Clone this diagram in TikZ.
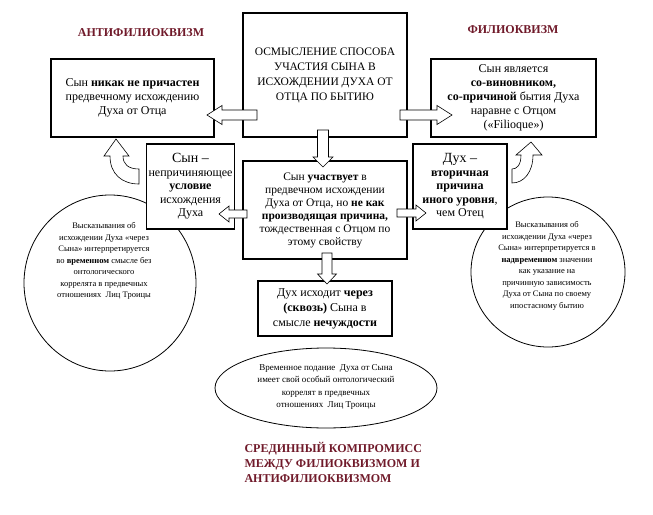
\documentclass[tikz,border=0pt]{standalone}
\usepackage{fontspec}
\setmainfont{Liberation Serif}
\usetikzlibrary{calc,shapes.geometric}
\definecolor{titlered}{RGB}{112,26,42}
\tikzset{
 box/.style={draw, line width=1.1pt, fill=white, align=center, inner sep=2pt},
 thickbox/.style={box, line width=2.2pt},
 barrow/.style={draw, line width=0.6pt, fill=white, line join=miter},
 oval/.style={draw, line width=0.8pt, ellipse, inner sep=0pt},
 ctext/.style={align=center, font=\fontsize{8.5}{11.5}\selectfont},
 title/.style={text=titlered, font=\bfseries\fontsize{12}{15}\selectfont},
 mainfont/.style={font=\fontsize{12}{14}\selectfont},
}
\newcommand\blockarrow[5]{%
 \coordinate (hb) at ($(#2)!#5!(#1)$);
 \draw[barrow] ($(#1)!#3!90:(#2)$) -- ($(hb)!#3!90:(#2)$) -- ($(hb)!#4!90:(#2)$) -- (#2)
   -- ($(hb)!#4!-90:(#2)$) -- ($(hb)!#3!-90:(#2)$) -- ($(#1)!#3!-90:(#2)$) -- cycle;}
\begin{document}
\begin{tikzpicture}[x=1pt,y=-1pt]
\useasboundingbox (0,0) rectangle (653,514);
% titles
\node[title] (anti) at (141,33) {АНТИФИЛИОКВИЗМ};
\node[title] (filio) at (513,30) {ФИЛИОКВИЗМ};
\node[title, align=left, anchor=north west] (mid) at (241,439) {СРЕДИННЫЙ КОМПРОМИСС\\МЕЖДУ ФИЛИОКВИЗМОМ И\\АНТИФИЛИОКВИЗМОМ};
% ovals
\node[oval, minimum width=172, minimum height=176] (lc) at (110,283) {};
\node[ctext] (lct) at (104,261) {Высказывания об\\исхождении Духа «через\\Сына» интерпретируется\\во \textbf{временном} смысле без\\онтологического\\коррелята в предвечных\\отношениях\ \ Лиц Троицы};
\node[oval, minimum width=154, minimum height=150] (rc) at (548,272) {};
\node[ctext] (rct) at (547,266) {Высказывания об\\исхождении Духа «через\\Сына» интерпретируется в\\\textbf{надвременном} значении\\как указание на\\причинную зависимость\\Духа от Сына по своему\\ипостасному бытию};
\node[oval, minimum width=222, minimum height=80] (bc) at (326,388) {};
\node[align=center, font=\fontsize{9}{12.5}\selectfont] (bct) at (326,387) {Временное подание\ \ Духа от Сына\\имеет свой особый онтологический\\коррелят в предвечных\\отношениях\ \ Лиц Троицы};
% boxes
\node[box, mainfont, minimum width=163, minimum height=78] (left) at (132.5,98) {Сын \textbf{никак не причастен}\\предвечному исхождению\\Духа от Отца};
\node[thickbox, font=\fontsize{11.5}{15}\selectfont, minimum width=164, minimum height=124] (top) at (325,75) {ОСМЫСЛЕНИЕ СПОСОБА\\УЧАСТИЯ СЫНА В\\ИСХОЖДЕНИИ ДУХА ОТ\\ОТЦА ПО БЫТИЮ};
\node[box, mainfont, minimum width=165, minimum height=78] (right) at (513.5,98) {Сын является\\\textbf{со-виновником,}\\\textbf{со-причиной} бытия Духа\\наравне с Отцом\\(«Filioque»)};
\node[box, font=\fontsize{11.5}{13}\selectfont, minimum width=164, minimum height=98] (middle) at (325,210) {Сын \textbf{участвует} в\\предвечном исхождении\\Духа от Отца, но \textbf{не как}\\\textbf{производящая причина,}\\тождественная с Отцом по\\этому свойству};
\node[box, font=\fontsize{12}{13.5}\selectfont, minimum width=87, minimum height=85] (lsmall) at (190.5,186.5) {{\fontsize{14}{14}\selectfont Сын –}\\непричиняющее\\\textbf{условие}\\исхождения\\Духа};
\node[box, font=\fontsize{12}{13.5}\selectfont, minimum width=94, minimum height=85] (rsmall) at (460,186.5) {{\fontsize{14}{14}\selectfont Дух –}\\\textbf{вторичная}\\\textbf{причина}\\\textbf{иного уровня},\\чем Отец};
\node[box, mainfont, font=\fontsize{12}{15}\selectfont, minimum width=134, minimum height=55] (bottom) at (325,308.5) {Дух исходит \textbf{через}\\\textbf{(сквозь)} Сына в\\смысле \textbf{нечуждости}};
% block arrows
\coordinate (a1s) at (257,115); \coordinate (a1t) at (207,115);
\coordinate (a2s) at (400,115); \coordinate (a2t) at (452,115);
\coordinate (a3s) at (323,130); \coordinate (a3t) at (323,167);
\coordinate (a4s) at (247,214); \coordinate (a4t) at (219,214);
\coordinate (a5s) at (397,213); \coordinate (a5t) at (426,213);
\coordinate (a6s) at (327,253); \coordinate (a6t) at (327,284);
\blockarrow{a1s}{a1t}{5pt}{9.5pt}{15pt}
\blockarrow{a2s}{a2t}{5pt}{9.5pt}{15pt}
\blockarrow{a3s}{a3t}{5.5pt}{10pt}{10pt}
\blockarrow{a4s}{a4t}{4pt}{8pt}{10pt}
\blockarrow{a5s}{a5t}{4pt}{8pt}{10pt}
\blockarrow{a6s}{a6t}{5pt}{9.5pt}{10pt}
% curved arrows
\draw[barrow] (110,156) -- (104,156) -- (116,139) -- (129,156) -- (123,156)
  .. controls (123,164) and (128,169) .. (139,169) -- (139,184)
  .. controls (122,184) and (110,174) .. (110,156) -- cycle;
\draw[barrow] (521,155) -- (516,155) -- (531,142) -- (542,155) -- (533,155)
  .. controls (533,172) and (524,183) .. (512,183) -- (512,169)
  .. controls (517,169) and (521,165) .. (521,155) -- cycle;
\end{tikzpicture}
\end{document}
